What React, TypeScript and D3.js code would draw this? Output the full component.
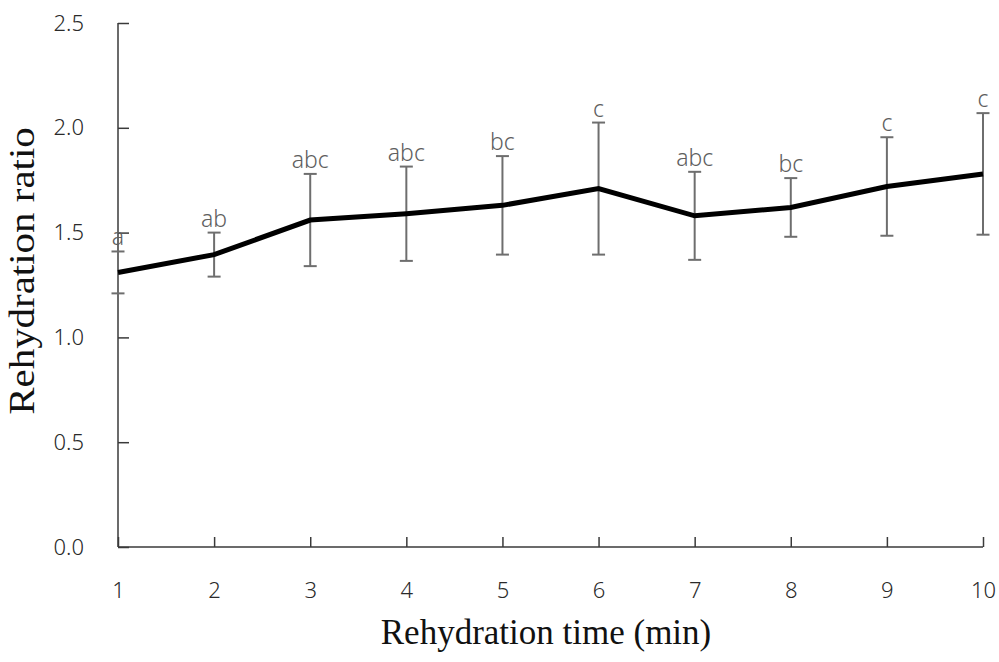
import React, { useRef, useEffect } from "react";
import * as d3 from "d3";

const times = [1, 2, 3, 4, 5, 6, 7, 8, 9, 10];
const ratioMean = [1.31, 1.395, 1.56, 1.59, 1.63, 1.71, 1.58, 1.62, 1.72, 1.78];
const ratioSd = [0.1, 0.105, 0.22, 0.225, 0.235, 0.315, 0.21, 0.14, 0.235, 0.29];
const groupLetters = ["a", "ab", "abc", "abc", "bc", "c", "abc", "bc", "c", "c"];
const yTicks = [0, 0.5, 1.0, 1.5, 2.0, 2.5];

const App = () => {
  const chartRef = useRef<SVGSVGElement | null>(null);

  useEffect(() => {
    if (!chartRef.current) return;
    const svg = d3.select(chartRef.current);
    svg.selectAll("*").remove();

    const width = 999;
    const height = 662;
    const tickFont = "'Noto Sans', 'Open Sans', sans-serif";
    const serif = "'Liberation Serif', 'Times New Roman', serif";
    const gray = "#5e5e5e";

    const x = d3.scaleLinear().domain([1, 10]).range([118, 983]);
    const y = d3.scaleLinear().domain([0, 2.5]).range([547, 23]);

    svg.attr("width", width).attr("height", height);

    // axes, ticks pointing inward
    const xAxis = svg.append("g")
      .attr("transform", "translate(0," + y(0) + ")")
      .call(d3.axisBottom(x).tickValues(times).tickSize(-10).tickPadding(35).tickFormat(d3.format("d")));
    const yAxis = svg.append("g")
      .attr("transform", "translate(" + x(1) + ",0)")
      .call(d3.axisLeft(y).tickValues(yTicks).tickSize(-11).tickPadding(34).tickFormat(d3.format(".1f")));

    [xAxis, yAxis].forEach(ax => {
      ax.select(".domain").attr("stroke", "#3a3a3a").attr("stroke-width", 1.5);
      ax.selectAll(".tick line").attr("stroke", "#3a3a3a").attr("stroke-width", 1.5);
      ax.selectAll(".tick text")
        .attr("fill", "#2a2a2a")
        .style("font-family", tickFont)
        .style("font-weight", "300")
        .style("font-size", "22px");
    });
    xAxis.select(".domain").attr("d", "M" + x(1) + ",0H" + x(10));
    yAxis.select(".domain").attr("d", "M0," + y(0) + "V" + y(2.5));

    const data = times.map((t, i) => ({
      t,
      mean: ratioMean[i],
      sd: ratioSd[i],
      label: groupLetters[i],
    }));

    // error bars
    const err = svg.append("g").attr("stroke", "#6e6e6e").attr("stroke-width", 2);
    data.forEach(d => {
      const cx = x(d.t);
      const top = y(d.mean + d.sd);
      const bot = y(d.mean - d.sd);
      err.append("line").attr("x1", cx).attr("x2", cx).attr("y1", top).attr("y2", bot);
      err.append("line").attr("x1", cx - 6.5).attr("x2", cx + 6.5).attr("y1", top).attr("y2", top);
      err.append("line").attr("x1", cx - 6.5).attr("x2", cx + 6.5).attr("y1", bot).attr("y2", bot);
    });

    // mean line
    const line = d3.line<any>().x(d => x(d.t)).y(d => y(d.mean));
    svg.append("path")
      .datum(data)
      .attr("fill", "none")
      .attr("stroke", "#000")
      .attr("stroke-width", 5)
      .attr("d", line);

    // significance letters
    svg.append("g")
      .selectAll("text")
      .data(data)
      .enter()
      .append("text")
      .attr("x", d => x(d.t))
      .attr("y", d => y(d.mean + d.sd) - 6)
      .attr("text-anchor", "middle")
      .attr("fill", gray)
      .style("font-family", tickFont)
      .style("font-weight", "300")
      .style("font-size", "23px")
      .text(d => d.label);

    // axis titles
    svg.append("text")
      .attr("x", 546)
      .attr("y", 644)
      .attr("text-anchor", "middle")
      .attr("fill", "#111")
      .style("font-family", serif)
      .style("font-size", "35px")
      .text("Rehydration time (min)");

    svg.append("text")
      .attr("transform", "translate(34,271) rotate(-90) scale(1.17,1)")
      .attr("text-anchor", "middle")
      .attr("fill", "#111")
      .style("font-family", serif)
      .style("font-size", "35px")
      .text("Rehydration ratio");
  }, []);

  return (
    <svg
      ref={chartRef}
      style={{ position: "absolute", left: 0, top: 0, background: "#fff" }}
    ></svg>
  );
};

export default App;
